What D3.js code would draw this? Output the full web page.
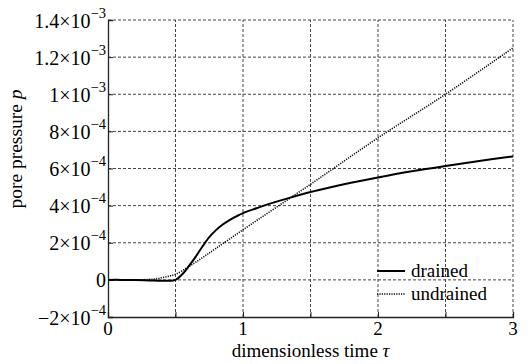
<!DOCTYPE html>
<html>
<head>
<meta charset="utf-8">
<script src="https://cdn.jsdelivr.net/npm/d3@7"></script>
<style>
  html, body { margin: 0; padding: 0; background: #fff; }
  svg { display: block; }
</style>
</head>
<body>
<svg id="chart" width="532" height="364"></svg>
<script>
// Dimensionless time samples and pore pressure responses
const tauDrained = [0, 0.1, 0.2, 0.3, 0.4, 0.45, 0.5, 0.55, 0.6, 0.65, 0.7, 0.75, 0.8, 0.85, 0.9, 0.95, 1.0, 1.1, 1.2, 1.35, 1.5, 1.65, 1.8, 2.0, 2.25, 2.5, 2.75, 3.0];
const pDrained = [0, 0, -0.01e-4, -0.03e-4, -0.05e-4, -0.05e-4, 0.0, 0.3e-4, 0.75e-4, 1.25e-4, 1.8e-4, 2.3e-4, 2.68e-4, 2.98e-4, 3.22e-4, 3.42e-4, 3.6e-4, 3.86e-4, 4.11e-4, 4.43e-4, 4.73e-4, 4.99e-4, 5.23e-4, 5.52e-4, 5.85e-4, 6.14e-4, 6.41e-4, 6.65e-4];

const tauUndrained = [0, 0.1, 0.2, 0.3, 0.35, 0.4, 0.45, 0.5, 0.6, 0.7, 0.8, 1.0, 1.5, 2.0, 2.5, 3.0];
const pUndrained = [0, 0, 0, 0.02e-4, 0.05e-4, 0.12e-4, 0.2e-4, 0.3e-4, 0.72e-4, 1.2e-4, 1.7e-4, 2.7e-4, 5.15e-4, 7.65e-4, 10.0e-4, 12.5e-4];

// Axis ticks
const xTickValues = [0, 1, 2, 3];
const xGridValues = [0.5, 1, 1.5, 2, 2.5, 3];
const yTickValues = [-2e-4, 0, 2e-4, 4e-4, 6e-4, 8e-4, 10e-4, 12e-4, 14e-4];
const yTickMantissa = ["\u22122", "0", "2", "4", "6", "8", "1", "1.2", "1.4"];
const yTickExponent = ["\u22124", "", "\u22124", "\u22124", "\u22124", "\u22124", "\u22123", "\u22123", "\u22123"];

const seriesNames = ["drained", "undrained"];

const serif = "'Liberation Serif', 'Times New Roman', serif";

const svg = d3.select("#chart");
const margin = { left: 108, right: 19, top: 20, bottom: 47 };
const W = 532, H = 364;

const x = d3.scaleLinear().domain([0, 3]).range([margin.left, W - margin.right]);
const y = d3.scaleLinear().domain([-2e-4, 14e-4]).range([H - margin.bottom, margin.top]);

const gridColor = "#444";

// Dashed grid
const grid = svg.append("g");
grid.selectAll("line.v").data(xGridValues).join("line")
  .attr("x1", d => x(d)).attr("x2", d => x(d))
  .attr("y1", y.range()[0]).attr("y2", y.range()[1])
  .attr("stroke", gridColor).attr("stroke-width", 1)
  .attr("stroke-dasharray", "3,2");
grid.selectAll("line.h").data(yTickValues.slice(1)).join("line")
  .attr("y1", d => y(d)).attr("y2", d => y(d))
  .attr("x1", x.range()[0]).attr("x2", x.range()[1])
  .attr("stroke", gridColor).attr("stroke-width", 1)
  .attr("stroke-dasharray", "3,2");

// Solid left and bottom axes with inward ticks
const xAxis = d3.axisBottom(x).tickValues(xGridValues.concat([0])).tickSize(-5).tickFormat("");
const yAxis = d3.axisLeft(y).tickValues(yTickValues).tickSize(-5).tickFormat("");

const gx = svg.append("g").attr("transform", `translate(0,${y(-2e-4)})`).call(xAxis);
const gy = svg.append("g").attr("transform", `translate(${x(0)},0)`).call(yAxis);
[gx, gy].forEach(g => {
  g.select(".domain").attr("stroke", "#222").attr("stroke-width", 1.3);
  g.selectAll(".tick line").attr("stroke", "#222").attr("stroke-width", 1);
});

// Tick labels
svg.append("g").selectAll("text").data(xTickValues).join("text")
  .attr("x", d => x(d)).attr("y", y(-2e-4) + 18)
  .attr("text-anchor", "middle")
  .style("font-family", serif).style("font-size", "19px")
  .text(d => d);

const yl = svg.append("g").selectAll("text").data(yTickValues).join("text")
  .attr("x", x(0) - 2).attr("y", d => y(d) + 7.5)
  .attr("text-anchor", "end")
  .style("font-family", serif).style("font-size", "20px");
yl.each(function(d, i) {
  const t = d3.select(this);
  if (yTickExponent[i] === "") { t.text(yTickMantissa[i]); return; }
  t.append("tspan").text(yTickMantissa[i] + "\u00d710");
  t.append("tspan").attr("dy", -10).style("font-size", "14.5px").text(yTickExponent[i]);
});

// Curves
const line = d3.line().x(d => x(d[0])).y(d => y(d[1])).curve(d3.curveCatmullRom.alpha(0.5));
const drained = tauDrained.map((t, i) => [t, pDrained[i]]);
const undrained = tauUndrained.map((t, i) => [t, pUndrained[i]]);

svg.append("path").datum(undrained).attr("d", line)
  .attr("fill", "none").attr("stroke", "#111").attr("stroke-width", 1.6)
  .attr("stroke-dasharray", "1.2,1.2");
svg.append("path").datum(drained).attr("d", line)
  .attr("fill", "none").attr("stroke", "#000").attr("stroke-width", 2);

// Legend
const legend = svg.append("g");
const legendY = [271, 294];
seriesNames.forEach((name, i) => {
  legend.append("line")
    .attr("x1", 377).attr("x2", 405).attr("y1", legendY[i]).attr("y2", legendY[i])
    .attr("stroke", "#000")
    .attr("stroke-width", i === 0 ? 2 : 1.4)
    .attr("stroke-dasharray", i === 0 ? null : "1.2,1.2");
  legend.append("text")
    .attr("x", 411).attr("y", legendY[i] + 6)
    .style("font-family", serif).style("font-size", "19px")
    .text(name);
});

// Axis titles
const xTitle = svg.append("text")
  .attr("x", (x.range()[0] + x.range()[1]) / 2).attr("y", 357)
  .attr("text-anchor", "middle")
  .style("font-family", serif).style("font-size", "19px");
xTitle.append("tspan").text("dimensionless time ");
xTitle.append("tspan").style("font-style", "italic").text("\u03c4");

const yTitle = svg.append("text")
  .attr("transform", "translate(22,149) rotate(-90)")
  .attr("text-anchor", "middle")
  .style("font-family", serif).style("font-size", "19.5px");
yTitle.append("tspan").text("pore pressure ");
yTitle.append("tspan").style("font-style", "italic").text("p");
</script>
</body>
</html>
